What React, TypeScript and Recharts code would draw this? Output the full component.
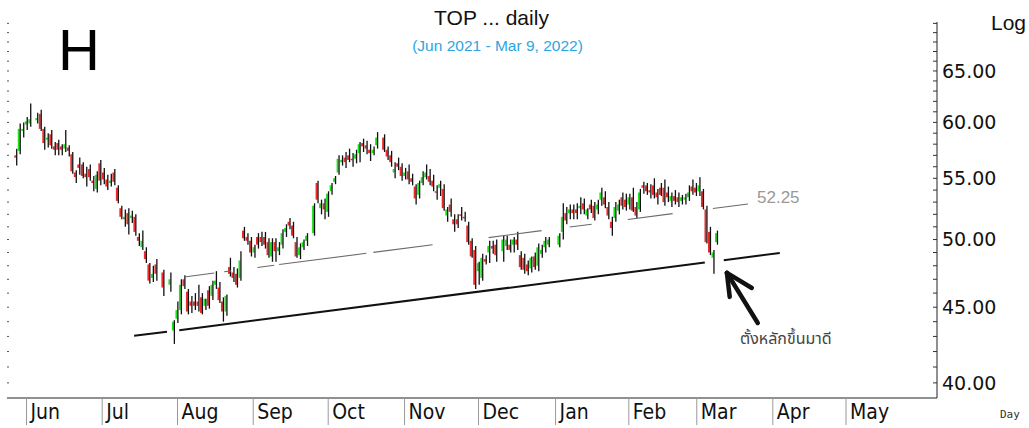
import { Bar, ComposedChart, ReferenceLine, XAxis, YAxis } from "recharts";

const RED = "#ec2b2b";
const GREEN = "#1ee21e";

const months = ["Jun", "Jul", "Aug", "Sep", "Oct", "Nov", "Dec", "Jan", "Feb", "Mar", "Apr", "May"];
// trading-day index where each month starts
const monthStarts = [3.0, 24.6, 46.1, 67.7, 89.1, 110.9, 132.0, 154.0, 174.9, 194.3, 216.0, 236.9];

const priceTicks = [40, 41, 42, 43, 44, 45, 46, 47, 48, 49, 50, 51, 52, 53, 54, 55, 56, 57, 58, 59, 60, 61, 62, 63, 64, 65, 66, 67, 68, 69, 70];
const labelledPrices = [40, 45, 50, 55, 60, 65];

// daily OHLC, one slot per trading day (null = no bar drawn)
const opens = [
  57.0, 57.4, 59.2, 59.8, 59.9, null, 60.2, 60.8, 59.4, 58.4,
  58.9, 57.8, 58.1, 57.8, 57.6, 57.7, 57.1, 55.5, 56.2, 56.2,
  55.4, 55.8, 54.8, 54.1, 56.3, 55.5, 54.9, 54.6, 55.5, 54.2,
  52.5, 51.6, 52.1, 51.7, 51.8, 50.2, 49.4, 49.1, 48.1, 47.1,
  48.1, null, 47.5, null, 46.6, 43.4, 44.2, 44.8, 47.0, 46.1,
  45.4, 45.4, 45.4, 45.7, 45.1, 46.2, 45.8, 46.6, 46.4, 45.4,
  44.7, 47.9, 47.5, 47.4, 47.1, 50.7, 50.2, 49.9, 49.0, 50.2,
  50.2, 50.2, 49.8, 48.7, 49.8, 49.1, 49.6, 50.6, 51.4, 51.1,
  49.8, 48.8, 49.4, 49.9, null, 50.5, 54.6, 52.5, 52.9, 52.2,
  53.9, 54.7, 55.5, 56.4, 56.8, 57.0, 56.7, 56.7, 57.2, 58.1,
  57.9, 57.5, 57.2, 57.9, null, 58.6, 57.5, 57.0, 55.5, 56.3,
  56.0, 55.2, 55.6, 55.0, 54.3, 53.6, 54.6, 55.1, 55.2, 54.8,
  53.9, 54.2, 54.1, 51.9, 52.8, 51.6, 51.6, 52.0, 51.8, 51.1,
  49.9, 49.2, 47.6, 47.1, 48.5, 49.0, 49.5, 49.6, null, 49.1,
  49.5, 49.6, 49.6, 50.0, 48.8, 48.6, 48.1, 47.8, 48.7, 48.0,
  48.9, 49.4, 49.6, null, null, 49.6, 50.6, 52.1, 52.1, 52.4,
  52.4, 52.5, 52.9, 51.9, 52.8, 52.7, 52.4, 53.2, 53.4, 52.6,
  51.4, 51.7, 52.3, 53.4, 53.2, 52.8, 53.4, 52.6, 52.4, 54.4,
  54.4, 54.0, 54.4, 53.8, 54.2, 54.2, 53.8, 53.1, 53.5, 53.4,
  53.1, 53.2, 53.4, 54.3, 54.2, 53.9, 53.9, 52.4, 50.6, 48.6,
  49.8,
];
const highs = [
  57.6, 59.9, 60.0, 60.5, 61.8, null, 60.9, 61.2, 59.6, 59.0,
  59.3, 58.2, 58.4, 58.0, 59.3, 57.9, 57.3, 55.7, 56.8, 56.4,
  56.0, 56.2, 55.2, 55.6, 56.6, 55.9, 55.3, 55.4, 55.8, 54.4,
  52.7, 52.4, 52.5, 52.3, 52.0, 50.5, 50.7, 49.4, 48.2, 48.0,
  48.5, null, 47.7, null, 47.5, 44.1, 45.4, 47.0, 47.3, 46.3,
  45.8, 46.0, 46.6, 46.0, 45.6, 46.5, 46.9, 47.6, 46.8, 45.7,
  45.9, 48.6, 47.9, 47.8, 49.1, 51.0, 50.5, 50.2, 49.6, 50.5,
  50.6, 50.6, 50.1, 50.1, 50.1, 49.8, 50.8, 51.2, 51.7, 51.4,
  50.2, 49.7, 50.0, 50.5, null, 52.9, 54.8, 53.2, 53.3, 53.9,
  54.6, 55.2, 57.0, 57.0, 57.3, 57.6, 57.2, 57.5, 58.2, 58.5,
  58.3, 58.0, 57.8, 59.1, null, 58.9, 57.8, 57.4, 56.4, 56.8,
  56.3, 55.9, 56.2, 55.4, 54.5, 54.8, 55.6, 56.2, 55.8, 55.3,
  54.4, 54.8, 54.5, 52.6, 53.3, 52.0, 52.0, 52.6, 52.2, 51.4,
  50.1, 49.5, 48.3, 48.9, 48.8, 49.9, 49.9, 50.0, null, 50.3,
  50.3, 50.0, 50.2, 50.6, 49.1, 48.9, 48.4, 48.7, 49.0, 49.7,
  49.6, 50.2, 50.2, null, null, 50.5, 52.9, 52.6, 52.8, 52.8,
  52.9, 53.4, 53.3, 52.5, 53.2, 53.0, 53.2, 54.2, 53.9, 53.0,
  51.8, 53.0, 53.2, 53.8, 53.7, 53.7, 54.2, 53.0, 54.1, 54.7,
  54.6, 54.5, 55.0, 54.1, 54.6, 54.9, 54.3, 53.8, 54.0, 53.8,
  53.6, 53.7, 54.4, 54.9, 54.6, 55.1, 54.1, 52.7, 51.0, 49.2,
  50.7,
];
const lows = [
  56.1, 57.1, 58.6, 59.3, 59.6, null, 59.9, 59.2, 57.5, 57.7,
  57.6, 57.0, 57.0, 57.0, 57.3, 56.9, 55.4, 54.6, 55.3, 55.0,
  54.3, 54.8, 53.9, 53.8, 54.4, 54.5, 54.0, 54.3, 54.4, 52.9,
  51.6, 51.0, 50.4, 51.3, 50.3, 49.5, 49.2, 48.2, 46.7, 46.8,
  46.9, null, 45.8, null, 46.1, 42.5, 43.9, 44.5, 46.3, 44.5,
  44.6, 44.8, 44.7, 44.5, 44.8, 44.9, 45.5, 46.3, 45.3, 44.0,
  44.4, 47.2, 46.8, 46.4, 46.9, 49.9, 49.6, 48.7, 48.6, 49.3,
  49.5, 49.3, 48.6, 48.3, 48.3, 48.8, 49.3, 50.2, 50.8, 50.1,
  48.6, 48.5, 49.2, 49.5, null, 50.3, 52.9, 52.0, 51.6, 51.8,
  53.6, 54.5, 55.3, 56.1, 55.9, 56.4, 56.0, 56.3, 56.4, 57.3,
  57.1, 56.5, 57.0, 57.6, null, 57.3, 56.6, 56.0, 55.0, 55.7,
  54.8, 54.9, 54.5, 54.4, 52.8, 53.3, 54.4, 54.9, 54.4, 53.9,
  53.2, 53.5, 52.3, 51.4, 51.8, 50.6, 50.9, 51.5, 51.4, 49.6,
  48.6, 46.3, 46.6, 46.9, 48.1, 48.2, 48.9, 48.3, null, 48.3,
  49.2, 49.0, 49.0, 49.2, 47.7, 47.4, 47.3, 47.5, 47.7, 47.6,
  48.6, 49.0, 49.4, null, null, 49.4, 50.0, 51.2, 51.6, 51.6,
  51.6, 52.0, 52.0, 51.6, 52.1, 51.5, 52.0, 52.7, 52.5, 51.6,
  50.3, 51.4, 52.0, 52.4, 52.3, 52.4, 52.2, 51.7, 52.2, 53.7,
  53.6, 53.3, 53.3, 52.8, 53.5, 52.7, 53.0, 52.6, 52.8, 52.6,
  52.8, 52.8, 53.1, 53.6, 53.5, 53.5, 52.4, 49.7, 48.8, 47.4,
  49.6,
];
const closes = [
  56.8, 59.4, 59.4, 60.1, 60.3, null, 60.4, 59.4, 58.1, 58.6,
  57.9, 57.5, 57.5, 57.5, 58.0, 57.4, 55.6, 55.1, 55.9, 55.2,
  55.1, 55.1, 54.6, 55.3, 54.8, 54.9, 54.3, 54.8, 54.7, 53.1,
  51.8, 51.8, 51.2, 51.9, 50.6, 49.9, 49.9, 48.5, 46.9, 47.4,
  47.4, null, 46.4, null, 47.0, 44.0, 44.8, 46.6, 46.5, 44.7,
  45.1, 45.1, 45.1, 44.6, 45.6, 45.1, 46.6, 46.9, 45.5, 44.7,
  45.8, 47.4, 47.1, 46.6, 48.4, 50.1, 49.9, 49.0, 49.4, 49.6,
  49.8, 49.6, 48.8, 49.8, 49.1, 49.4, 50.5, 50.9, 51.1, 50.3,
  48.7, 49.4, 49.8, 50.3, null, 52.7, 53.2, 52.9, 52.4, 53.7,
  54.4, 55.0, 56.7, 56.6, 56.4, 56.6, 56.6, 57.1, 58.0, 57.8,
  57.6, 57.2, 57.5, 58.6, null, 57.5, 56.9, 56.4, 55.8, 56.0,
  55.2, 55.5, 54.9, 54.7, 53.3, 54.6, 55.1, 55.5, 54.7, 54.3,
  53.8, 54.5, 52.5, 52.4, 52.2, 51.2, 51.2, 52.0, 51.8, 49.8,
  48.7, 46.6, 48.2, 48.6, 48.3, 49.5, 49.3, 48.8, null, 50.0,
  50.0, 49.2, 50.0, 49.6, 47.9, 47.7, 47.6, 48.6, 47.9, 49.4,
  49.2, 49.9, 50.0, null, null, 50.3, 51.8, 51.5, 52.4, 52.1,
  52.1, 52.7, 52.4, 52.4, 52.4, 51.7, 52.8, 53.8, 52.8, 51.9,
  50.9, 52.6, 52.8, 52.7, 52.6, 53.4, 52.3, 51.9, 53.8, 54.2,
  53.9, 53.8, 53.6, 53.4, 53.6, 53.0, 53.4, 53.5, 53.1, 53.0,
  53.4, 53.4, 53.8, 53.9, 53.8, 54.4, 52.6, 49.8, 49.0, 49.0,
  50.5,
];

// drawn trendlines as [day1, price1, day2, price2]
const supportSegs = [
  [33.7, 43.04, 43.1, 43.32],
  [46.6, 43.42, 196.6, 48.24],
  [202.0, 48.42, 218.0, 48.97],
];
const necklineSegs = [
  [48.0, 47.17, 56.6, 47.46],
  [59.4, 47.55, 61.4, 47.62],
  [68.9, 47.87, 73.7, 48.04],
  [75.1, 48.09, 100.0, 48.94],
  [102.0, 49.01, 118.9, 49.6],
  [134.9, 50.15, 150.0, 50.7],
  [158.0, 50.98, 164.3, 51.21],
  [174.6, 51.58, 187.4, 52.06],
  [198.9, 52.48, 208.9, 52.85],
];
const arrowSegs = [
  [211.7, 43.91, 202.9, 47.47],
  [202.9, 47.47, 203.7, 45.73],
  [202.9, 47.47, 210.0, 46.37],
];

const data = opens.map((o, i) => ({
  n: i,
  open: o,
  high: highs[i],
  low: lows[i],
  close: closes[i],
  range: o == null ? null : [lows[i], highs[i]],
}));

function Candle(props: any) {
  const { x, y, width, height, payload } = props;
  if (!payload || payload.open == null || !Number.isFinite(y) || !Number.isFinite(height)) return <g />;
  const top = Math.min(y, y + height);
  const bot = Math.max(y, y + height);
  const lh = Math.log(payload.high);
  const ll = Math.log(payload.low);
  const py = (p: number) => top + ((bot - top) * (lh - Math.log(p))) / (lh - ll || 1);
  const yo = py(payload.open);
  const yc = py(payload.close);
  const up = payload.close > payload.open;
  const bodyTop = Math.min(yo, yc);
  const bodyH = Math.max(1.5, Math.abs(yc - yo));
  return (
    <g>
      <rect x={x} y={bodyTop} width={width - 1.2} height={bodyH} fill={up ? GREEN : RED} />
      <line x1={x + width - 0.7} x2={x + width - 0.7} y1={top} y2={bot} stroke="#111" strokeWidth={1.3} />
    </g>
  );
}

function PriceTick(props: any) {
  const { x, y, payload } = props;
  const v = payload.value;
  const axisX = x - 5;
  return (
    <g>
      <line x1={axisX - 4} x2={axisX} y1={y} y2={y} stroke="#333" />
      {labelledPrices.includes(v) ? (
        <text x={x} y={y} dy="0.36em" fontSize={19} fill="#111" fontFamily="'DejaVu Sans', Verdana, sans-serif">
          {v.toFixed(2)}
        </text>
      ) : null}
    </g>
  );
}

function MonthTick(props: any) {
  const { x, y, payload } = props;
  const i = monthStarts.indexOf(payload.value);
  return (
    <g>
      <line x1={x} x2={x} y1={y} y2={y + 27} stroke="#999" />
      <text
        x={x + 4}
        y={y + 21}
        fontSize={21}
        fill="#111"
        fontFamily="'Liberation Sans Narrow', 'DejaVu Sans Condensed', 'Roboto Condensed', sans-serif"
        style={{ fontStretch: "condensed" }}
      >
        {months[i]}
      </text>
    </g>
  );
}

function NoLabel() {
  return <g />;
}

const seg = (s: number[]) => [
  { x: s[0], y: s[1] },
  { x: s[2], y: s[3] },
];

export default function App() {
  return (
    <div style={{ position: "absolute", left: 0, top: 0, width: 1029, height: 428, background: "#fff", fontFamily: "'Liberation Sans', Arial, sans-serif" }}>
      <ComposedChart width={1029} height={428} data={data} margin={{ top: 22, right: 0, bottom: 0, left: 7 }}>
        <XAxis
          dataKey="n"
          type="number"
          domain={[-2.57, 262.86]}
          allowDataOverflow
          ticks={monthStarts}
          interval={0}
          tickSize={0}
          tickMargin={0}
          tickLine={false}
          axisLine={{ stroke: "#222" }}
          tick={<MonthTick />}
          height={30}
        />
        <YAxis
          yAxisId="l"
          orientation="left"
          width={1}
          mirror
          scale="log"
          domain={[39.07, 70.15]}
          allowDataOverflow
          ticks={priceTicks}
          interval={0}
          axisLine={false}
          tickSize={2}
          tickLine={{ stroke: "#555" }}
          tick={<NoLabel />}
        />
        <YAxis
          yAxisId="r"
          orientation="right"
          width={92}
          scale="log"
          domain={[39.07, 70.15]}
          allowDataOverflow
          ticks={priceTicks}
          interval={0}
          tickSize={0}
          tickMargin={5}
          tickLine={false}
          axisLine={{ stroke: "#222" }}
          tick={<PriceTick />}
        />
        {necklineSegs.map((s, i) => (
          <ReferenceLine key={"nk" + i} yAxisId="r" segment={seg(s)} stroke="#6a6a6a" strokeWidth={1.1} />
        ))}
        {supportSegs.map((s, i) => (
          <ReferenceLine key={"sp" + i} yAxisId="r" segment={seg(s)} stroke="#111" strokeWidth={2} />
        ))}
        <Bar dataKey="range" yAxisId="r" barSize={4} shape={<Candle />} isAnimationActive={false} />
        {arrowSegs.map((s, i) => (
          <ReferenceLine key={"ar" + i} yAxisId="r" segment={seg(s)} stroke="#111" strokeWidth={4.5} strokeLinecap="round" />
        ))}
      </ComposedChart>
      <div style={{ position: "absolute", left: 0, width: 983, top: 6, textAlign: "center", fontSize: 21, color: "#111" }}>
        TOP ... daily
      </div>
      <div style={{ position: "absolute", left: 0, width: 995, top: 37, textAlign: "center", fontSize: 15.5, color: "#2ba6e1" }}>
        (Jun 2021 - Mar 9, 2022)
      </div>
      <div style={{ position: "absolute", left: 58, top: 17, fontSize: 58, lineHeight: "66px", color: "#000" }}>H</div>
      <div style={{ position: "absolute", left: 991, top: 11, fontSize: 21, color: "#111" }}>Log</div>
      <div style={{ position: "absolute", left: 1000, top: 408, fontSize: 11, color: "#333", fontFamily: "'DejaVu Sans Mono', 'Liberation Mono', monospace" }}>
        Day
      </div>
      <div style={{ position: "absolute", left: 757, top: 188, fontSize: 17, color: "#999" }}>52.25</div>
      <div style={{ position: "absolute", left: 740, top: 327, fontSize: 16, color: "#444", fontFamily: "'Noto Sans Thai', Tahoma, 'DejaVu Sans', sans-serif" }}>
        ตั้งหลักขึ้นมาดี
      </div>
    </div>
  );
}
